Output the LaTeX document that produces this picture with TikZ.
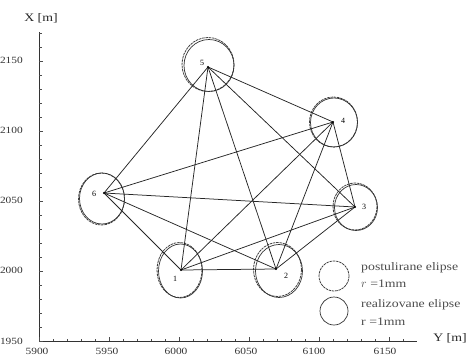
\documentclass[tikz,border=0pt]{standalone}
\usepackage{fontspec}
\setmainfont{Liberation Serif}
\newfontfamily\widefont[FakeStretch=1.2]{Liberation Serif}
\begin{document}
\begin{tikzpicture}[x=1pt,y=-1pt,
  edge/.style={draw=black!85,line width=0.75pt},
  axis/.style={draw=black!80,line width=0.7pt},
  tick/.style={draw=black!70,line width=0.5pt},
  postell/.style={draw=black!75,line width=0.8pt,dash pattern=on 2.5pt off 0.8pt},
  realell/.style={draw=black!80,line width=0.7pt},
  ticklab/.style={font=\widefont\fontsize{9.5}{10}\selectfont,text=black!80,inner sep=0pt},
  axlab/.style={font=\widefont\fontsize{11.5}{12}\selectfont,text=black!85,inner sep=0pt},
  ptlab/.style={font=\fontsize{8}{9}\selectfont,inner sep=0pt},
  legtext/.style={font=\widefont\fontsize{11.5}{12}\selectfont,text=black!70,inner sep=0pt,anchor=west,align=left}]
\useasboundingbox (0,0) rectangle (468,356);

% axes
\coordinate (o) at (39,341);
\coordinate (ytop) at (39,32);
\coordinate (xend) at (417,341);
\draw[axis] (ytop) -- (o) -- (xend);
\foreach \i in {0,...,22} {
  \draw[tick] (39,{341-14*\i}) -- ++(2.5,0);
}
\foreach \i in {0,...,4} {
  \draw[tick] (39,{341-70*\i}) -- ++(4,0);
}
\foreach \i in {0,...,26} {
  \draw[tick] ({39+14*\i},341) -- ++(0,-2.5);
}
\foreach \i in {0,...,5} {
  \draw[tick] ({39+70*\i},341) -- ++(0,-4.5);
}
\foreach \v/\y in {2150/60,2100/130,2050/200,2000/270,1950/341} {
  \node[ticklab,anchor=east] (yl\v) at (23,\y) {\v};
}
\foreach \v/\x in {5900/37,5950/107,6000/176,6050/246,6100/314,6150/385} {
  \node[ticklab] (xl\v) at (\x,351) {\v};
}
\node[axlab] (xax) at (41,18) {X [m]};
\node[axlab] (yax) at (450,338) {Y [m]};

% stations
\coordinate (p1) at (181,270);
\coordinate (p2) at (276,269);
\coordinate (p3) at (355,207);
\coordinate (p4) at (333,122);
\coordinate (p5) at (208,67);
\coordinate (p6) at (104,193);

% ellipses
\draw[postell] (179.5,270) ellipse [x radius=22.5,y radius=27.5];
\draw[realell] (180.5,271) ellipse [x radius=22,y radius=27];
\draw[postell] (277.5,269.5) ellipse [x radius=24,y radius=27];
\draw[realell] (279,271) ellipse [x radius=23.5,y radius=26.5];
\draw[postell] (355,206.5) ellipse [x radius=22,y radius=23.5];
\draw[realell] (356,207.5) ellipse [x radius=21.5,y radius=23];
\draw[postell] (333.5,122) ellipse [x radius=24,y radius=25];
\draw[realell] (334,122.5) ellipse [x radius=23.5,y radius=24.5];
\draw[postell] (208,64.5) ellipse [x radius=26,y radius=27];
\draw[realell] (209,65.5) ellipse [x radius=25,y radius=26];
\draw[postell] (101.5,199) ellipse [x radius=23,y radius=26];
\draw[realell] (102,198.5) ellipse [x radius=22.5,y radius=25.5];

% edges (complete graph)
\foreach \a/\b in {1/2,1/3,1/4,1/5,1/6,2/3,2/4,2/5,2/6,3/4,3/5,3/6,4/5,4/6,5/6} {
  \draw[edge] (p\a) -- (p\b);
}
\foreach \k in {1,...,6} { \fill (p\k) circle (1.1); }

% labels
\node[ptlab] (l1) at (175,279) {1};
\node[ptlab] (l2) at (286,276) {2};
\node[ptlab] (l3) at (364,207) {3};
\node[ptlab] (l4) at (343,121) {4};
\node[ptlab] (l5) at (202,63) {5};
\node[ptlab] (l6) at (94,194) {6};

% legend
\draw[postell] (334,276) circle (15);
\draw[realell] (334,311) circle (14);
\node[legtext] (lg1) at (361,268) {postulirane elipse};
\node[legtext] (lg2) at (361,284) {$r$ =1mm};
\node[legtext] (lg3) at (361,305) {realizovane elipse};
\node[legtext] (lg4) at (361,322) {r =1mm};
\end{tikzpicture}
\end{document}
